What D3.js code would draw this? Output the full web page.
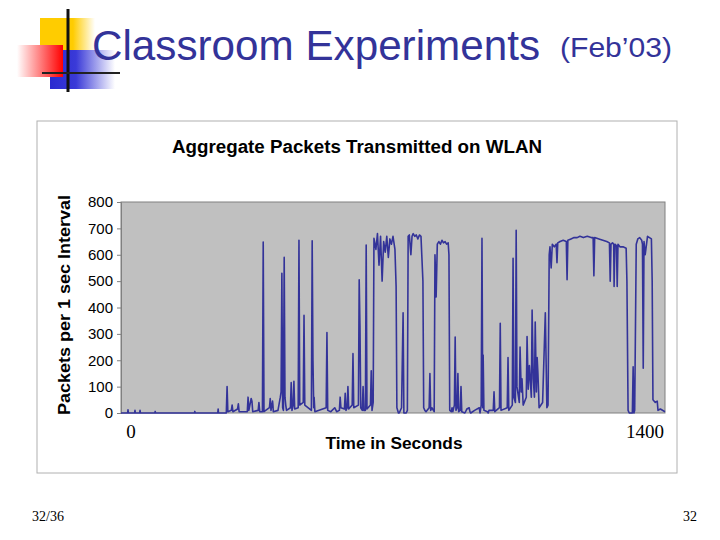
<!DOCTYPE html>
<html><head><meta charset="utf-8">
<script src="https://cdn.jsdelivr.net/npm/d3@7"></script>
<style>body{margin:0;background:#fff}</style>
</head><body>
<svg id="slide" width="720" height="540"></svg>
<script>
var w = 720, h = 540;
var yTicks = [0, 100, 200, 300, 400, 500, 600, 700, 800];
var xEnds = [0, 1400];
// [seconds, packets]
var trace = [[0,0],[17,0],[18,12],[19,0],[35,0],[36,10],[37,0],[48,0],[49,10],[50,0],[87,0],[88,6],[89,0],[189,0],[190,6],[191,0],[249,0],[250,15],[251,0],
[271,0],[273,100],[275,5],[284,10],[286,30],[288,5],[300,15],[302,35],[304,5],
[325,5],[327,60],[329,10],[335,55],[337,45],[339,5],[353,10],[355,40],[357,5],
[364,5],[366,648],[368,5],[382,20],[384,55],[386,10],[390,45],[391,30],[392,5],
[404,10],[410,60],[412,80],[414,530],[416,20],[418,10],[420,590],[422,60],[424,30],[426,10],
[436,20],[438,115],[440,10],[443,30],[445,120],[447,15],[456,20],[458,655],[460,30],
[469,40],[471,370],[473,30],[490,10],[492,653],[494,200],[496,20],[497,60],[499,5],
[528,20],[530,305],[532,10],[540,5],[550,20],[555,5],[562,10],[564,60],[566,20],[575,15],[577,75],[579,10],[582,20],[584,100],[586,15],
[595,30],[597,225],[599,20],[611,30],[613,505],[615,330],[617,20],[621,10],[623,100],[625,10],[629,10],[631,637],[633,15],
[642,30],[644,160],[646,10],[649,40],[651,662],
[656,620],[660,680],[664,560],[668,670],[672,500],[676,650],[680,610],[684,670],[688,590],[692,660],[696,640],[700,670],[705,620],[708,480],[710,20],
[714,0],[716,0],[722,20],[726,380],[728,0],[734,0],
[737,10],[739,670],[742,675],[746,600],[749,670],[752,680],[756,670],[760,675],[764,660],[768,675],[772,670],[777,500],[779,20],
[782,10],[785,5],[793,20],[795,150],[797,10],[800,20],[804,10],[806,5],
[808,600],[811,440],[814,640],[818,650],[822,640],[826,655],[830,645],[834,650],[838,640],[842,645],[844,600],[846,10],
[850,5],[852,20],[854,5],[858,30],[860,288],[862,10],[865,20],[867,150],[869,5],[873,10],[875,100],[877,5],
[885,0],[890,15],[896,20],[898,5],[900,0],[910,10],[922,20],[924,0],[927,30],[929,662],[931,20],[932,220],[934,10],[943,5],[945,0],[947,10],
[958,10],[960,80],[962,5],[974,20],[976,340],[978,10],[994,20],[996,210],[998,10],[1007,30],[1009,587],[1011,60],[1015,40],[1017,693],[1019,100],
[1025,40],[1027,250],[1030,80],[1032,130],[1035,30],[1043,60],[1045,290],[1048,90],[1051,180],[1056,60],[1058,390],[1061,130],[1064,60],[1066,345],[1069,80],[1071,210],[1073,150],[1076,20],[1085,40],[1092,380],[1096,20],
[1099,30],[1102,600],[1104,630],[1107,550],[1110,640],[1115,630],[1120,640],[1122,570],[1124,645],[1130,650],[1138,655],[1146,650],[1148,505],[1150,655],[1158,660],[1166,665],[1174,665],[1181,670],[1190,665],[1200,670],[1210,665],[1215,665],[1217,520],[1219,665],[1230,660],[1240,655],[1250,650],[1257,645],[1259,500],[1261,640],[1265,645],[1268,640],[1269,480],[1271,640],[1275,635],[1277,480],[1279,640],[1284,630],[1292,630],[1300,625],[1302,500],[1305,10],
[1308,0],[1316,0],[1318,175],[1320,0],[1322,10],[1326,640],[1330,660],[1335,665],[1340,655],[1342,640],[1344,170],[1346,650],[1349,600],[1355,670],[1360,665],[1365,660],[1367,500],[1369,50],[1375,40],[1380,45],[1382,10],[1388,15],[1400,5]];

var svg = d3.select("#slide");
var defs = svg.append("defs");
var gr = defs.append("linearGradient").attr("id", "redG");
gr.append("stop").attr("offset", "0").attr("stop-color", "#fff");
gr.append("stop").attr("offset", "1").attr("stop-color", "#f00");
var gb = defs.append("linearGradient").attr("id", "blueG");
gb.append("stop").attr("offset", "0").attr("stop-color", "#2a2ad0");
gb.append("stop").attr("offset", "0.4").attr("stop-color", "#3a3ad8");
gb.append("stop").attr("offset", "1").attr("stop-color", "#fff");
var gy = defs.append("linearGradient").attr("id", "yelG");
gy.append("stop").attr("offset", "0").attr("stop-color", "#ffcc00");
gy.append("stop").attr("offset", "0.6").attr("stop-color", "#ffcc00");
gy.append("stop").attr("offset", "1").attr("stop-color", "#fff");

// logo
svg.append("rect").attr("x", 40).attr("y", 18).attr("width", 55).attr("height", 34).attr("fill", "url(#yelG)");
svg.append("rect").attr("x", 50).attr("y", 50).attr("width", 65).attr("height", 39).attr("fill", "url(#blueG)");
svg.append("rect").attr("x", 17).attr("y", 45).attr("width", 46).attr("height", 32).attr("fill", "url(#redG)");
svg.append("line").attr("x1", 68).attr("x2", 68).attr("y1", 9).attr("y2", 92).attr("stroke", "#111").attr("stroke-width", 3);
svg.append("line").attr("x1", 42).attr("x2", 120).attr("y1", 73).attr("y2", 73).attr("stroke", "#222").attr("stroke-width", 2);

svg.append("text").attr("x", 92).attr("y", 60).attr("fill", "#333399")
	.attr("textLength", 448).attr("lengthAdjust", "spacingAndGlyphs")
	.style("font-family", "Liberation Sans, Arial").style("font-size", "42px").text("Classroom Experiments");
svg.append("text").attr("x", 560).attr("y", 57).attr("fill", "#333399")
	.attr("textLength", 112).attr("lengthAdjust", "spacingAndGlyphs")
	.style("font-family", "Liberation Sans, Arial").style("font-size", "28px").text("(Feb\u201903)");

// chart box
svg.append("rect").attr("x", 37).attr("y", 121).attr("width", 640).attr("height", 352)
	.attr("fill", "#fff").attr("stroke", "#b0b0b0");
svg.append("text").attr("x", 357).attr("y", 153).attr("text-anchor", "middle")
	.attr("textLength", 370).attr("lengthAdjust", "spacingAndGlyphs")
	.style("font-family", "Liberation Sans, Arial").style("font-weight", "bold").style("font-size", "18px")
	.text("Aggregate Packets Transmitted on WLAN");

var x = d3.scaleLinear().domain(xEnds).range([121, 665]);
var y = d3.scaleLinear().domain([0, 800]).range([413, 202]);

svg.append("rect").attr("x", 121).attr("y", 202).attr("width", 544).attr("height", 211)
	.attr("fill", "#c0c0c0").attr("stroke", "#808080");

var ya = svg.append("g").attr("transform", "translate(121,0)")
	.call(d3.axisLeft(y).tickValues(yTicks).tickSize(4).tickPadding(4));
ya.select(".domain").attr("stroke", "#808080");
ya.selectAll("line").attr("stroke", "#808080");
ya.selectAll("text").style("font-family", "Liberation Sans, Arial").style("font-size", "15px").attr("fill", "#000");

svg.append("path").datum(trace)
	.attr("fill", "none").attr("stroke", "#333399").attr("stroke-width", 1.6).attr("stroke-linejoin", "round")
	.attr("d", d3.line().x(d => x(d[0])).y(d => y(d[1])));

svg.append("text").attr("transform", "translate(70,305) rotate(-90)").attr("text-anchor", "middle")
	.attr("textLength", 220).attr("lengthAdjust", "spacingAndGlyphs")
	.style("font-family", "Liberation Sans, Arial").style("font-weight", "bold").style("font-size", "17px")
	.text("Packets per 1 sec Interval");
svg.append("text").attr("x", 394).attr("y", 449).attr("text-anchor", "middle")
	.attr("textLength", 137).attr("lengthAdjust", "spacingAndGlyphs")
	.style("font-family", "Liberation Sans, Arial").style("font-weight", "bold").style("font-size", "16px")
	.text("Time in Seconds");
svg.selectAll(".xend").data(xEnds).enter().append("text")
	.attr("x", d => d == 0 ? x(d) + 10 : x(d) - 20).attr("y", 438).attr("text-anchor", "middle")
	.style("font-family", "Liberation Serif, Times New Roman").style("font-size", "19px")
	.text(d => d);

svg.append("text").attr("x", 32).attr("y", 521)
	.style("font-family", "Liberation Serif, Times New Roman").style("font-size", "14px").text("32/36");
svg.append("text").attr("x", 697).attr("y", 521).attr("text-anchor", "end")
	.style("font-family", "Liberation Serif, Times New Roman").style("font-size", "14px").text("32");
</script>
</body></html>
